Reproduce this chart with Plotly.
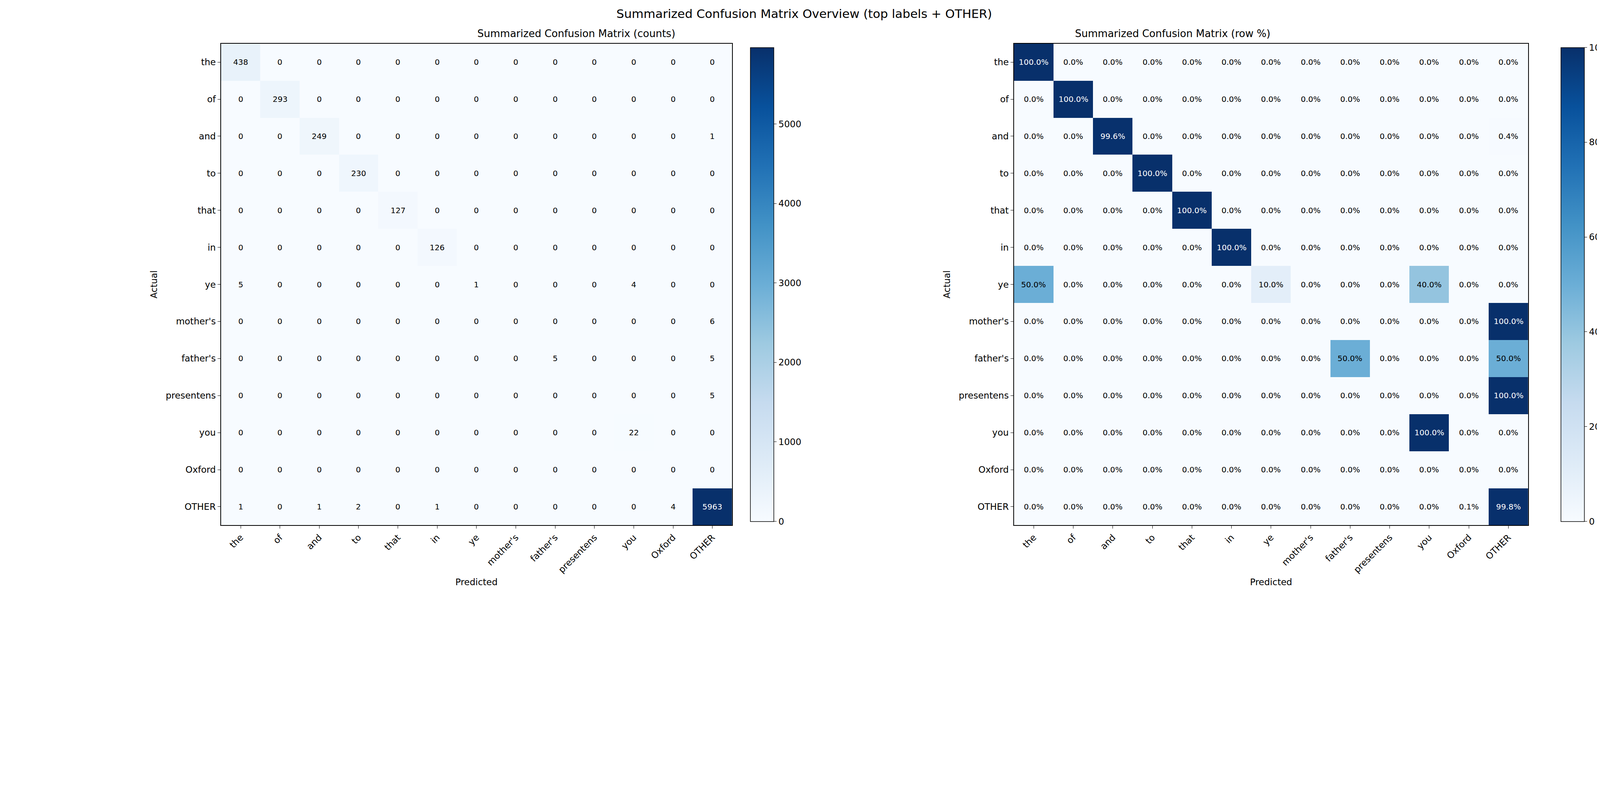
import numpy as np
import plotly.graph_objects as go

labels = ["the", "of", "and", "to", "that", "in", "ye", "mother's", "father's",
          "presentens", "you", "Oxford", "OTHER"]

# counts, rows = actual, cols = predicted
counts = [
    [438, 0, 0, 0, 0, 0, 0, 0, 0, 0, 0, 0, 0],
    [0, 293, 0, 0, 0, 0, 0, 0, 0, 0, 0, 0, 0],
    [0, 0, 249, 0, 0, 0, 0, 0, 0, 0, 0, 0, 1],
    [0, 0, 0, 230, 0, 0, 0, 0, 0, 0, 0, 0, 0],
    [0, 0, 0, 0, 127, 0, 0, 0, 0, 0, 0, 0, 0],
    [0, 0, 0, 0, 0, 126, 0, 0, 0, 0, 0, 0, 0],
    [5, 0, 0, 0, 0, 0, 1, 0, 0, 0, 4, 0, 0],
    [0, 0, 0, 0, 0, 0, 0, 0, 0, 0, 0, 0, 6],
    [0, 0, 0, 0, 0, 0, 0, 0, 5, 0, 0, 0, 5],
    [0, 0, 0, 0, 0, 0, 0, 0, 0, 0, 0, 0, 5],
    [0, 0, 0, 0, 0, 0, 0, 0, 0, 0, 22, 0, 0],
    [0, 0, 0, 0, 0, 0, 0, 0, 0, 0, 0, 0, 0],
    [1, 0, 1, 2, 0, 1, 0, 0, 0, 0, 0, 4, 5963],
]

cm = np.array(counts, dtype=float)
row_sums = cm.sum(axis=1, keepdims=True)
pct = np.divide(cm, row_sums, out=np.zeros_like(cm), where=row_sums > 0) * 100

FONT = "DejaVu Sans"
TICK = dict(size=23, family=FONT, color="black")
CELL = 20

def cbar(x, vals):
    return dict(x=x, xanchor="left", y=0.5135, len=0.833, thickness=60,
                outlinewidth=1.5, outlinecolor="black", ticks="outside", ticklen=7,
                tickcolor="black", tickvals=vals, tickfont=TICK)

fig = go.Figure()
fig.add_trace(go.Heatmap(
    z=cm, x=labels, y=labels, colorscale="Blues", zmin=0, zmax=cm.max(),
    xaxis="x", yaxis="y", colorbar=cbar(0.464, [0, 1000, 2000, 3000, 4000, 5000]),
))
fig.add_trace(go.Heatmap(
    z=pct, x=labels, y=labels, colorscale="Blues", zmin=0, zmax=100,
    xaxis="x2", yaxis="y2", colorbar=cbar(0.970, [0, 20, 40, 60, 80, 100]),
))

annotations = []
for i in range(len(labels)):
    for j in range(len(labels)):
        c = cm[i, j]
        annotations.append(dict(
            x=labels[j], y=labels[i], xref="x", yref="y", showarrow=False,
            text=str(int(c)),
            font=dict(size=CELL, family=FONT,
                      color="white" if c > cm.max() / 2 else "black")))
        p = pct[i, j]
        annotations.append(dict(
            x=labels[j], y=labels[i], xref="x2", yref="y2", showarrow=False,
            text=f"{p:.1f}%",
            font=dict(size=CELL, family=FONT,
                      color="white" if p > 50 else "black")))

annotations += [
    dict(text="Summarized Confusion Matrix Overview (top labels + OTHER)",
         x=0.5, y=0.995, xref="paper", yref="paper", showarrow=False,
         yanchor="top", font=dict(size=31, family=FONT, color="black")),
    dict(text="Summarized Confusion Matrix (counts)", x=0.2955, y=0.936,
         xref="paper", yref="paper", showarrow=False, yanchor="bottom",
         font=dict(size=26, family=FONT, color="black")),
    dict(text="Summarized Confusion Matrix (row %)", x=0.7915, y=0.936,
         xref="paper", yref="paper", showarrow=False, yanchor="bottom",
         font=dict(size=26, family=FONT, color="black")),
]

axis_common = dict(showline=True, linecolor="black", linewidth=1.5, mirror=True,
                   ticks="outside", ticklen=7, tickcolor="black", showgrid=False,
                   zeroline=False, tickfont=TICK)
title_font = dict(size=23, family=FONT, color="black")

fig.update_layout(
    width=4115, height=1496, plot_bgcolor="white", paper_bgcolor="white",
    margin=dict(l=0, r=0, t=0, b=0), annotations=annotations,
    xaxis=dict(domain=[0.136, 0.455], anchor="y", tickangle=-45,
               title=dict(text="Predicted", font=title_font), **axis_common),
    yaxis=dict(domain=[0.097, 0.930], anchor="x", autorange="reversed",
               title=dict(text="Actual", font=title_font), **axis_common),
    xaxis2=dict(domain=[0.631, 0.952], anchor="y2", tickangle=-45,
                title=dict(text="Predicted", font=title_font), **axis_common),
    yaxis2=dict(domain=[0.097, 0.930], anchor="x2", autorange="reversed",
                title=dict(text="Actual", font=title_font), **axis_common),
)

fig.write_html("out.html")
